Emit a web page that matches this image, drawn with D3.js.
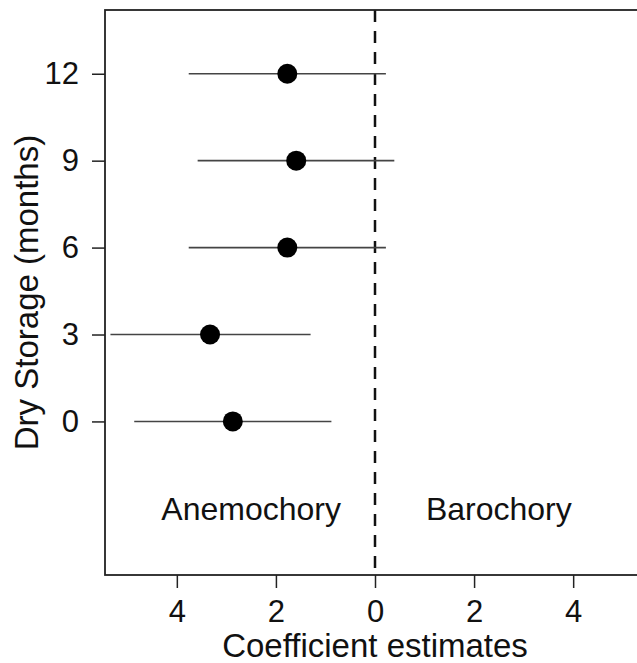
<!DOCTYPE html>
<html>
<head>
<meta charset="utf-8">
<script src="https://d3js.org/d3.v7.min.js"></script>
<style>
  body { margin: 0; background: #fff; }
  text { font-family: "Liberation Sans", Arial, sans-serif; fill: #111; }
</style>
</head>
<body>
<svg width="637" height="663"></svg>
<script>
// storage time (months) and coefficient estimates with their intervals
var months = [0, 3, 6, 9, 12];
var estimate = [-2.87, -3.33, -1.77, -1.59, -1.77];
var lower = [-4.86, -5.34, -3.76, -3.58, -3.76];
var upper = [-0.88, -1.30, 0.22, 0.39, 0.22];
var xTicks = [-4, -2, 0, 2, 4];
var yTicks = [0, 3, 6, 9, 12];
var sideLabels = ["Anemochory", "Barochory"];
var sideX = [-2.5, 2.5];

var svg = d3.select("svg"),
    width = +svg.attr("width"),
    height = +svg.attr("height");

var margin = {left: 105, top: 10, right: 645, bottom: 575};

var x = d3.scaleLinear().domain([-5.45, 5.45]).range([margin.left, margin.right]);
var y = d3.scaleLinear().domain([-5.3, 14.2]).range([margin.bottom, margin.top]);

// x axis, labels show absolute values
var xAxis = svg.append("g")
    .attr("transform", "translate(0," + margin.bottom + ")")
    .call(d3.axisBottom(x).tickValues(xTicks).tickSize(13).tickPadding(12)
      .tickFormat(function(d) { return Math.abs(d); }));
xAxis.select(".domain").remove();

var yAxis = svg.append("g")
    .attr("transform", "translate(" + margin.left + ",0)")
    .call(d3.axisLeft(y).tickValues(yTicks).tickSize(13).tickPadding(13));
yAxis.select(".domain").remove();

svg.selectAll(".tick line").attr("stroke", "#222").attr("stroke-width", 1.5);
svg.selectAll(".tick text").attr("font-size", 31).attr("fill", "#111")
    .style("font-family", "'Liberation Sans', Arial, sans-serif");

// zero line
svg.append("line")
    .attr("x1", x(0)).attr("x2", x(0))
    .attr("y1", margin.top).attr("y2", margin.bottom)
    .attr("stroke", "#111").attr("stroke-width", 2.5)
    .attr("stroke-dasharray", "12,9");

// intervals
svg.selectAll(".ci")
    .data(months)
    .enter().append("line")
    .attr("class", "ci")
    .attr("x1", function(d, i) { return x(lower[i]); })
    .attr("x2", function(d, i) { return x(upper[i]); })
    .attr("y1", function(d) { return y(d); })
    .attr("y2", function(d) { return y(d); })
    .attr("stroke", "#444").attr("stroke-width", 1.6);

svg.selectAll(".pt")
    .data(months)
    .enter().append("circle")
    .attr("class", "pt")
    .attr("cx", function(d, i) { return x(estimate[i]); })
    .attr("cy", function(d) { return y(d); })
    .attr("r", 10)
    .attr("fill", "#000");

// plot box
svg.append("rect")
    .attr("x", margin.left).attr("y", margin.top)
    .attr("width", margin.right - margin.left)
    .attr("height", margin.bottom - margin.top)
    .attr("fill", "none").attr("stroke", "#222").attr("stroke-width", 1.8);

svg.selectAll(".side")
    .data(sideLabels)
    .enter().append("text")
    .attr("class", "side")
    .attr("x", function(d, i) { return x(sideX[i]); })
    .attr("y", y(-3))
    .attr("text-anchor", "middle")
    .attr("dy", "0.35em")
    .attr("font-size", 32)
    .text(function(d) { return d; });

svg.append("text")
    .attr("x", x(0))
    .attr("y", 657)
    .attr("text-anchor", "middle")
    .attr("font-size", 33)
    .text("Coefficient estimates");

svg.append("text")
    .attr("transform", "translate(38," + ((margin.top + margin.bottom) / 2) + ") rotate(-90)")
    .attr("text-anchor", "middle")
    .attr("font-size", 33)
    .text("Dry Storage (months)");
</script>
</body>
</html>
